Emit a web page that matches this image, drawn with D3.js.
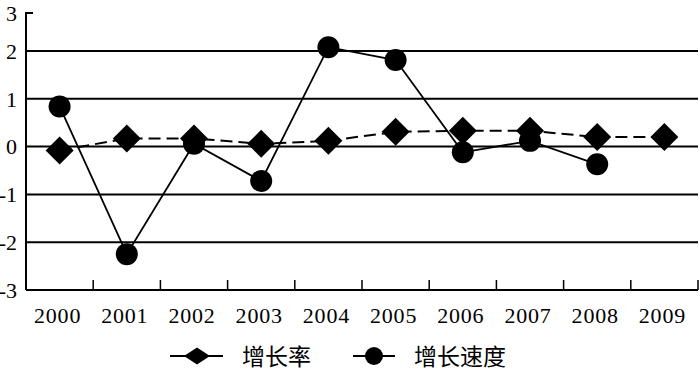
<!DOCTYPE html>
<html>
<head>
<meta charset="utf-8">
<script src="https://cdn.jsdelivr.net/npm/d3@7"></script>
<style>
  html, body { margin: 0; padding: 0; background: #fff; }
  svg { display: block; }
</style>
</head>
<body>
<svg id="chart" width="700" height="376"></svg>
<script>
const years = ["2000","2001","2002","2003","2004","2005","2006","2007","2008","2009"];
const rateValues  = [-0.08, 0.17, 0.17, 0.06, 0.12, 0.31, 0.33, 0.33, 0.20, 0.20];   // 增长率
const speedValues = [0.84, -2.25, 0.06, -0.72, 2.10, 1.81, -0.12, 0.12, -0.37, null]; // 增长速度
const yTicks = [-3, -2, -1, 0, 1, 2, 3];
const gridValues = [-2, -1, 0, 1, 2];
const seriesNames = ["增长率", "增长速度"];

const SERIF = '"Liberation Serif"';
const CJK = '"Noto Sans CJK SC"';

const svg = d3.select("#chart");
const x = d3.scaleBand().domain(years).range([26, 698]).paddingInner(0).paddingOuter(0);
const y = d3.scaleLinear().domain([-3, 2, 3]).range([290, 51, 13]);
const cx = d => x(d) + x.bandwidth() / 2;

// gridlines
svg.append("g").selectAll("line").data(gridValues).join("line")
  .attr("x1", 26).attr("x2", 698)
  .attr("y1", d => y(d)).attr("y2", d => y(d))
  .attr("stroke", "#000").attr("stroke-width", 2);

// y axis
const yAxis = d3.axisLeft(y).tickValues(yTicks).tickSize(0).tickPadding(9)
  .tickFormat(d => String(d));
const gy = svg.append("g").attr("transform", "translate(26,0)").call(yAxis);
gy.select(".domain").remove();
gy.selectAll("text").style("font-family", SERIF).style("font-size", "22px").attr("fill", "#000")
  .attr("dy", "0.33em");
svg.append("line").attr("x1", 26).attr("x2", 26).attr("y1", y(3)).attr("y2", y(-3))
  .attr("stroke", "#000").attr("stroke-width", 2);
svg.append("line").attr("x1", 25).attr("x2", 33).attr("y1", y(3)).attr("y2", y(3))
  .attr("stroke", "#000").attr("stroke-width", 2);

// x axis
svg.append("line").attr("x1", 26).attr("x2", 698).attr("y1", y(-3)).attr("y2", y(-3))
  .attr("stroke", "#000").attr("stroke-width", 2);
const bounds = years.slice(1).map(d => x(d)).concat([x(years[years.length-1]) + x.bandwidth()]);
svg.append("g").selectAll("line").data(bounds).join("line")
  .attr("x1", d => d).attr("x2", d => d)
  .attr("y1", y(-3)).attr("y2", y(-3) - 10)
  .attr("stroke", "#000").attr("stroke-width", 1.5);
svg.append("g").selectAll("text").data(years).join("text")
  .attr("x", d => cx(d) - 2).attr("y", 323)
  .attr("text-anchor", "middle")
  .style("font-family", SERIF).style("font-size", "22px").style("letter-spacing", "0.8px")
  .attr("fill", "#000")
  .text(d => d);

// series data
const rateData = years.map((d, i) => ({year: d, v: rateValues[i]}));
const speedData = years.map((d, i) => ({year: d, v: speedValues[i]})).filter(d => d.v !== null);

const line = d3.line().x(d => cx(d.year)).y(d => y(d.v));

svg.append("path").datum(rateData).attr("d", line)
  .attr("fill", "none").attr("stroke", "#000").attr("stroke-width", 2)
  .attr("stroke-dasharray", "12,6");
svg.append("path").datum(speedData).attr("d", line)
  .attr("fill", "none").attr("stroke", "#000").attr("stroke-width", 1.8);

const diamond = (cxv, cyv, hw, hh) => `M${cxv},${cyv-hh}L${cxv+hw},${cyv}L${cxv},${cyv+hh}L${cxv-hw},${cyv}Z`;

svg.append("g").selectAll("path").data(rateData).join("path")
  .attr("d", d => diamond(cx(d.year), y(d.v), 14, 14))
  .attr("fill", "#000");
svg.append("g").selectAll("circle").data(speedData).join("circle")
  .attr("cx", d => cx(d.year)).attr("cy", d => y(d.v)).attr("r", 11)
  .attr("fill", "#000");

// legend
const lg = svg.append("g");
lg.append("line").attr("x1", 170).attr("x2", 223).attr("y1", 356).attr("y2", 356)
  .attr("stroke", "#000").attr("stroke-width", 1.8);
lg.append("path").attr("d", diamond(197, 356, 13, 8.5)).attr("fill", "#000");
lg.append("text").attr("x", 242).attr("y", 365)
  .style("font-family", CJK).style("font-size", "23px")
  .attr("fill", "#000").text(seriesNames[0]);
lg.append("line").attr("x1", 353).attr("x2", 395).attr("y1", 356).attr("y2", 356)
  .attr("stroke", "#000").attr("stroke-width", 1.8);
lg.append("circle").attr("cx", 374).attr("cy", 356).attr("r", 9).attr("fill", "#000");
lg.append("text").attr("x", 414).attr("y", 365)
  .style("font-family", CJK).style("font-size", "23px")
  .attr("fill", "#000").text(seriesNames[1]);
</script>
</body>
</html>
